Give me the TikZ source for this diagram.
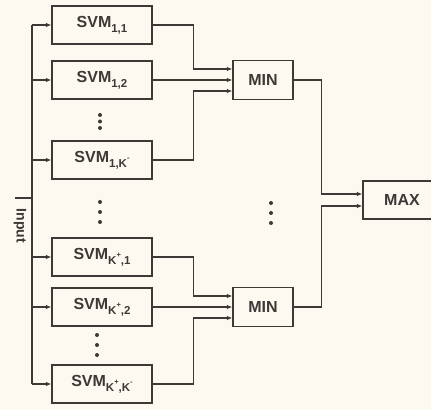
\documentclass[tikz,border=0pt]{standalone}
\usepackage{fontspec}
\setmainfont{Liberation Sans}
\usetikzlibrary{arrows.meta}
\definecolor{paper}{RGB}{252,249,240}
\definecolor{ink}{RGB}{62,56,54}
% subscript and superscript for the box labels
\newcommand{\lo}[1]{\raisebox{-0.32em}{\fontsize{11.5}{13}\selectfont #1}}
\newcommand{\hi}[1]{\raisebox{0.55em}{\fontsize{7.5}{8}\selectfont #1}}

\begin{document}
\begin{tikzpicture}[x=1pt, y=1pt, color=ink, line width=1.2pt,
        font=\fontsize{16}{19}\selectfont\bfseries,
        svm/.style={draw, minimum width=100pt, minimum height=38pt, inner sep=0pt},
        op/.style={draw, minimum width=60pt, minimum height=39pt, inner sep=0pt},
        >={Latex[length=5.5pt,width=4.5pt]}]
    \clip (0,0) rectangle (431,410);
    \fill[paper] (0,0) rectangle (431,410);
    % classifiers
    \node[svm] (s11) at (102,385) {SVM\lo{1,1}};
    \node[svm] (s12) at (102,330) {SVM\lo{1,2}};
    \node[svm] (s1k) at (102,250) {SVM\lo{1,K\hi{-}}};
    \node[svm] (sk1) at (102,153) {SVM\lo{K\hi{+},1}};
    \node[svm] (sk2) at (102,103) {SVM\lo{K\hi{+},2}};
    \node[svm] (skk) at (102,26) {SVM\lo{K\hi{+},K\hi{-}}};
    % combiners
    \node[op] (min1) at (263,330) {MIN};
    \node[op] (min2) at (263,103) {MIN};
    \node[draw, minimum width=78pt, minimum height=38pt] (max) at (402,210) {MAX};
    % input bus
    \coordinate (bt) at (32,385);
    \coordinate (bb) at (32,26);
    \coordinate (in) at (15,212);
    \draw (bt) -- (bb);
    \draw (in) -- (bb |- in);
    \node[rotate=-90, font=\fontsize{14}{16}\selectfont\bfseries] (lbl) at (20,184) {Input};
    \foreach \n in {s11,s12,s1k,sk1,sk2,skk}
        \draw[->] (bb |- \n.west) -- (\n.west);
    % to the MIN boxes
    \draw[->] (s11.east) -- ++(41,0) |- ([yshift=11pt]min1.west);
    \draw[->] (s12) -- (min1);
    \draw[->] (s1k.east) -- ++(41,0) |- ([yshift=-11pt]min1.west);
    \draw[->] (sk1.east) -- ++(41,0) |- ([yshift=11pt]min2.west);
    \draw[->] (sk2) -- (min2);
    \draw[->] (skk.east) -- ++(41,0) |- ([yshift=-11pt]min2.west);
    % to MAX
    \draw[->] (min1.east) -- ++(28,0) |- ([yshift=6pt]max.west);
    \draw[->] (min2.east) -- ++(28,0) |- ([yshift=-6pt]max.west);
    % dots
    \foreach \x/\y/\g in {100/295/6.5, 100/208/10, 97/75/10, 271/207/10}
        \foreach \d in {0,1,2}
            \fill (\x,\y-\d*\g) circle (2);
\end{tikzpicture}
\end{document}
